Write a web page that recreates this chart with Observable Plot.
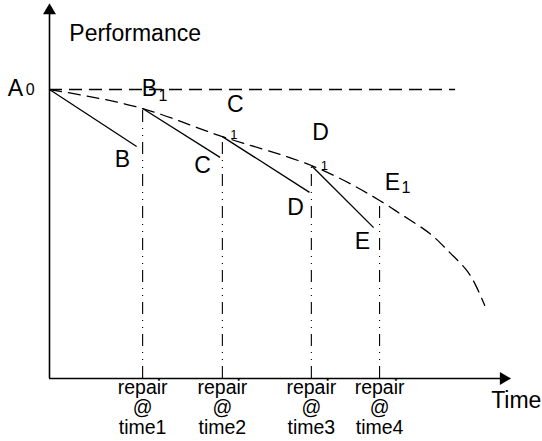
<!DOCTYPE html>
<html>
<head>
<meta charset="utf-8">
<script src="https://cdn.jsdelivr.net/npm/d3@7"></script>
<script src="https://cdn.jsdelivr.net/npm/@observablehq/plot@0.6"></script>
<style>
  html, body { margin: 0; padding: 0; background: #fff; }
</style>
</head>
<body>
<div id="chart"></div>
<script>
// ---- data (schematic units: time 0..100, performance 0..130) ----
const repairTimes = [20.2, 37.5, 56.8, 71.6];
const repairPerf = [93.4, 83.7, 73.7, 61.6];            // B1, C1, D1, E1 on the envelope
const repairLabels = ["repair\n@\ntime1", "repair\n@\ntime2", "repair\n@\ntime3", "repair\n@\ntime4"];

const curveTime = [0, 20.2, 37.5, 56.8, 71.6, 75.5, 79.8, 83.5, 87.0, 90.5, 92.8, 94.4];
const curvePerf = [100, 93.4, 83.7, 73.7, 61.6, 57.6, 53.2, 48.8, 43.3, 37.4, 31.1, 25.3];

const initialPerf = 100;         // A0
const baselineEnd = 88.1;        // end of the horizontal dashed A0 line

const segStartTime = [0, 20.2, 37.5, 56.8];
const segStartPerf = [100, 93.4, 83.7, 73.7];
const segEndTime = [18.9, 37.0, 56.4, 70.3];
const segEndPerf = [80.3, 76.5, 64.4, 52.2];

const bigLabels = ["A", "B", "C", "D", "E", "B", "C", "D", "E"];
const bigLabelTime = [-7.4, 21.7, 40.3, 58.8, 74.4, 15.8, 33.2, 53.4, 67.9];
const bigLabelPerf = [100.3, 100.2, 94.8, 85.1, 67.8, 75.8, 73.7, 59.2, 47.4];

const subLabels = ["0", "1", "1", "1", "1"];
const subLabelTime = [-4.2, 24.6, 40.0, 59.6, 77.3];
const subLabelPerf = [99.8, 97.8, 84.2, 73.6, 66.0];
const subIsSmall = [false, false, true, true, false];

const axisTimeEnd = 98.5;
const axisPerfEnd = 127.3;

// ---- build tables ----
const curve = curveTime.map((t, i) => ({t, p: curvePerf[i]}));
const segs = segStartTime.map((t, i) => ({t1: t, p1: segStartPerf[i], t2: segEndTime[i], p2: segEndPerf[i]}));
const repairs = repairTimes.map((t, i) => ({t, p: repairPerf[i], label: repairLabels[i]}));
const bigs = bigLabels.map((s, i) => ({s, t: bigLabelTime[i], p: bigLabelPerf[i]}));
const subs = subLabels.map((s, i) => ({s, t: subLabelTime[i], p: subLabelPerf[i], small: subIsSmall[i]}));

const font = "'Liberation Sans', Arial, Helvetica, sans-serif";

const chart = Plot.plot({
  width: 542,
  height: 441,
  marginLeft: 49,
  marginRight: 32,
  marginTop: 2.3,
  marginBottom: 63,
  style: {fontFamily: font, background: "#fff", color: "#000"},
  x: {domain: [0, 100], axis: null},
  y: {domain: [0, 130], axis: null},
  marks: [
    // axes
    Plot.ruleX([0], {y1: 0, y2: axisPerfEnd, stroke: "#000", strokeWidth: 1.6}),
    Plot.ruleY([0], {x1: 0, x2: axisTimeEnd, stroke: "#000", strokeWidth: 1.6}),
    Plot.dot([{t: 0, p: axisPerfEnd}], {x: "t", y: "p", symbol: "triangle", r: 4.8, fill: "#000", stroke: "none"}),
    Plot.dot([{t: axisTimeEnd, p: 0}], {x: "t", y: "p", symbol: "triangle", rotate: 90, r: 4.8, fill: "#000", stroke: "none"}),
    // repair verticals (dash-dot-dot)
    Plot.ruleX(repairs, {x: "t", y1: 0, y2: "p", stroke: "#000", strokeWidth: 1.1, strokeDasharray: "12,6,1,6,1,6"}),
    // horizontal A0 dashed line
    Plot.ruleY([initialPerf], {x1: 0, x2: baselineEnd, stroke: "#000", strokeWidth: 1.3, strokeDasharray: "13,7"}),
    // dashed envelope curve
    Plot.line(curve, {x: "t", y: "p", curve: "natural", stroke: "#000", strokeWidth: 1.3, strokeDasharray: "12,7"}),
    // solid deterioration segments
    Plot.link(segs, {x1: "t1", y1: "p1", x2: "t2", y2: "p2", stroke: "#000", strokeWidth: 1.3}),
    // labels
    Plot.text(bigs, {x: "t", y: "p", text: "s", fontSize: 23, fill: "#000"}),
    Plot.text(subs, Plot.filter(d => !d.small, {x: "t", y: "p", text: "s", fontSize: 16, fill: "#000"})),
    Plot.text(subs, Plot.filter(d => d.small, {x: "t", y: "p", text: "s", fontSize: 13, fill: "#000"})),
    Plot.text(repairs, {x: "t", y: 0, text: "label", dy: 29, fontSize: 19.5, lineHeight: 1.03, fill: "#000"}),
    Plot.text(["Performance"], {x: 4.3, y: 119.4, text: d => d, textAnchor: "start", fontSize: 23, fill: "#000"}),
    Plot.text(["Time"], {x: 95.8, y: -7.6, text: d => d, textAnchor: "start", fontSize: 23, fill: "#000"})
  ]
});
document.getElementById("chart").appendChild(chart);
</script>
</body>
</html>
